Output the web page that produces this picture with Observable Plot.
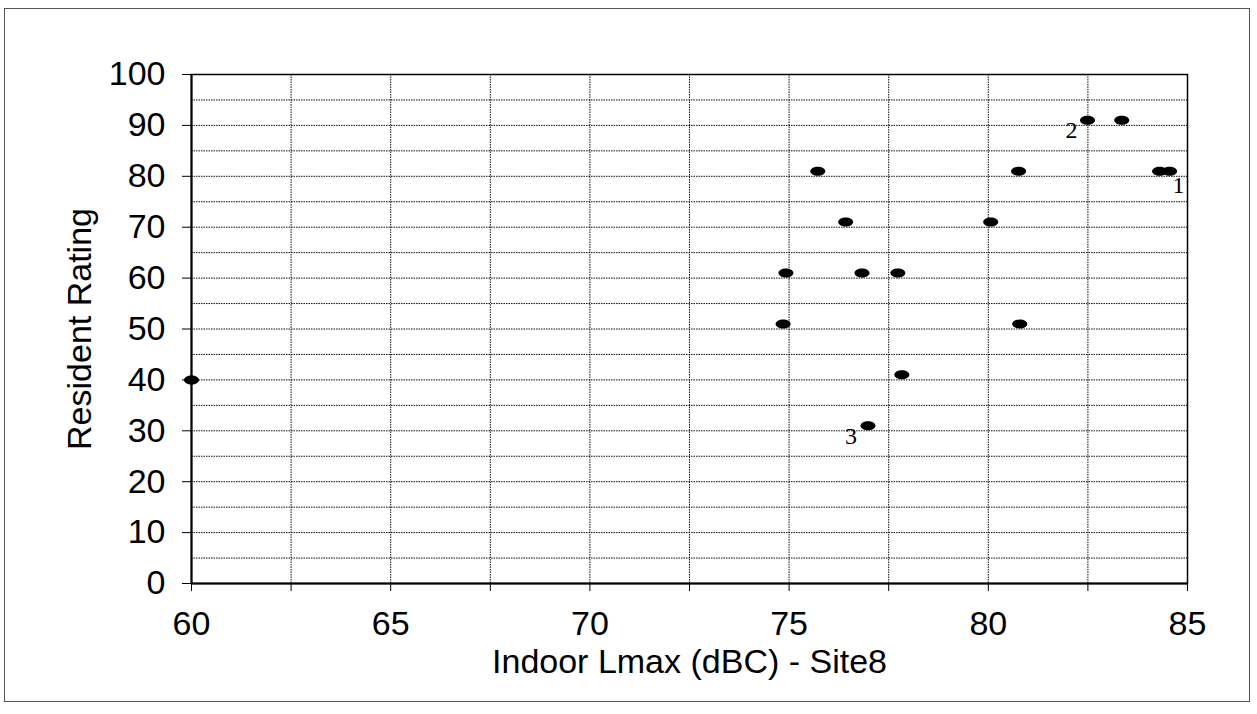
<!DOCTYPE html>
<html>
<head>
<meta charset="utf-8">
<script src="https://cdn.jsdelivr.net/npm/d3@7"></script>
<script src="https://cdn.jsdelivr.net/npm/@observablehq/plot@0.6"></script>
<style>
  html, body { margin: 0; padding: 0; background: #fff; }
  #wrap { position: relative; width: 1257px; height: 714px; }
  #border { position: absolute; left: 4px; top: 8px; width: 1246px; height: 694px; border: 1.5px solid #555; box-sizing: border-box; }
  #chart { position: absolute; left: 0; top: 0; }
</style>
</head>
<body>
<div id="wrap"><div id="border"></div><div id="chart"></div></div>
<script>
// Data
const lmax   = [60, 74.85, 74.92, 75.72, 76.42, 76.83, 76.98, 77.73, 77.83, 80.06, 80.76, 80.79, 82.49, 83.35, 84.3, 84.55];
const rating = [40, 51,    61,    81,    71,    61,    31,    61,    41,    71,    81,    51,    91,    91,    81,   81];

const noteText = ["1", "2", "3"];
const noteX    = [84.55, 82.49, 76.98];
const noteY    = [81, 91, 31];

const xTicks = [60, 62.5, 65, 67.5, 70, 72.5, 75, 77.5, 80, 82.5, 85];
const yTicks = [0, 10, 20, 30, 40, 50, 60, 70, 80, 90, 100];
const yGrid  = [5, 10, 15, 20, 25, 30, 35, 40, 45, 50, 55, 60, 65, 70, 75, 80, 85, 90, 95];
const xGrid  = [62.5, 65, 67.5, 70, 72.5, 75, 77.5, 80, 82.5];

const xTitle = "Indoor Lmax (dBC) - Site8";
const yTitle = "Resident Rating";

const points = lmax.map((x, i) => ({x, y: rating[i]}));
const notes = noteText.map((t, i) => ({t, x: noteX[i], y: noteY[i]}));

const ellipse = {
  draw(ctx) {
    const rx = 7.5, ry = 4.5, k = 0.5523;
    ctx.moveTo(rx, 0);
    ctx.bezierCurveTo(rx, ry * k, rx * k, ry, 0, ry);
    ctx.bezierCurveTo(-rx * k, ry, -rx, ry * k, -rx, 0);
    ctx.bezierCurveTo(-rx, -ry * k, -rx * k, -ry, 0, -ry);
    ctx.bezierCurveTo(rx * k, -ry, rx, -ry * k, rx, 0);
    ctx.closePath();
  }
};

const noteDx = {"1": 9, "2": -16, "3": -17};
const noteDy = {"1": 14, "2": 10, "3": 11};

const chart = Plot.plot({
  width: 1257,
  height: 714,
  marginLeft: 191,
  marginRight: 70,
  marginTop: 74,
  marginBottom: 131,
  style: {fontFamily: "'Liberation Sans', Arial, sans-serif", fontSize: "34px", color: "#000", background: "transparent"},
  x: {domain: [60, 85], ticks: xTicks, tickFormat: d => d % 5 === 0 ? String(d) : "", tickSize: 8, tickPadding: 19, label: null},
  y: {domain: [0, 100], ticks: yTicks, tickSize: 9, tickPadding: 17, label: null},
  marks: [
    Plot.ruleY(yGrid, {stroke: "#111", strokeWidth: 1, strokeDasharray: "1.5,1"}),
    Plot.ruleX(xGrid, {stroke: "#111", strokeWidth: 1, strokeDasharray: "1.5,1"}),
    Plot.frame({stroke: "#000", strokeWidth: 1.5}),
    Plot.ruleX([60], {stroke: "#000", strokeWidth: 2}),
    Plot.ruleY([0], {stroke: "#000", strokeWidth: 2}),
    Plot.dot(points, {x: "x", y: "y", symbol: ellipse, fill: "#000", stroke: "none"}),
    ...notes.map(n => Plot.text([n], {x: "x", y: "y", text: "t", dx: noteDx[n.t], dy: noteDy[n.t],
      fontFamily: "'Liberation Serif', 'Times New Roman', serif", fontSize: 24, fill: "#000"})),
    Plot.text([xTitle], {frameAnchor: "bottom", dy: 79, lineAnchor: "middle", textAnchor: "middle", fontSize: 34, fill: "#000"}),
    Plot.text([yTitle], {frameAnchor: "left", dx: -111, rotate: -90, lineAnchor: "middle", textAnchor: "middle", fontSize: 34, fill: "#000"})
  ]
});
document.getElementById("chart").appendChild(chart);
</script>
</body>
</html>
